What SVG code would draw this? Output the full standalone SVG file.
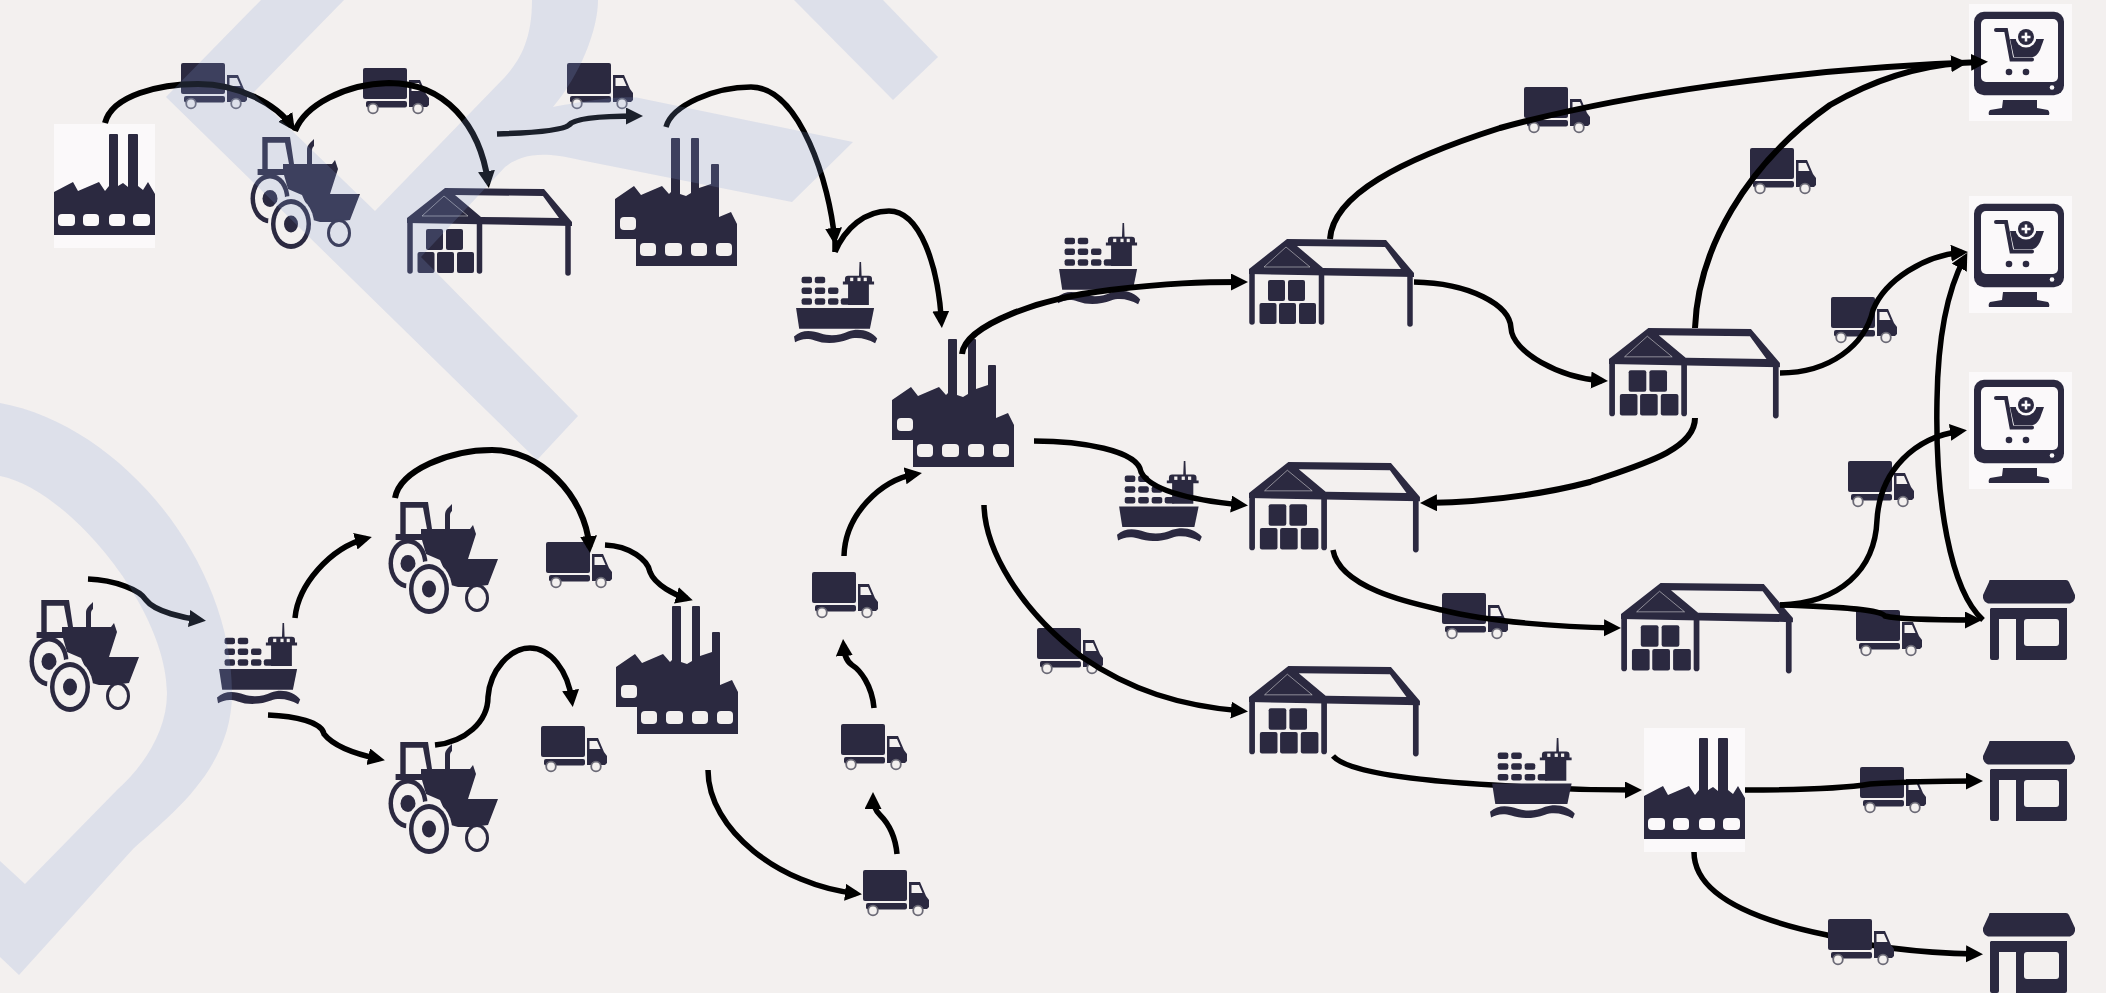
<svg xmlns="http://www.w3.org/2000/svg" width="2106" height="993" viewBox="0 0 2106 993">
<style>
.d{fill:#2b2940}.l{fill:#f3f0ef}.w{fill:#fbf9fa}
.p{fill:none;stroke:#2b2940;stroke-width:5.5;stroke-linecap:round}
.c path{fill:none;stroke:#000;stroke-width:5.5;marker-end:url(#ah)}
.c path.n{marker-end:none}
.c path.t{stroke-width:6}
.wm{fill:#88a2d6;fill-opacity:.2}
</style>
<defs>
<marker id="ah" markerUnits="userSpaceOnUse" markerWidth="18" markerHeight="18" refX="11" refY="8.500" orient="auto"><path d="M0,0 L17,8.500 L0,17 Z" fill="#000"/></marker>
<g id="truck">
<rect class="d" width="44" height="31" rx="2"/>
<rect class="d" x="3" y="33" width="41" height="6.500" rx="2"/>
<path class="d" d="M46,12H57L63,26L66,30V37L64,39H46Z"/>
<path class="l" d="M48.500,15H56L59.500,23H48.500Z"/>
<g fill="#f3f0ef" stroke="#6b6a76" stroke-width="1.800"><circle cx="10" cy="40.500" r="4.800"/><circle cx="55" cy="40.500" r="4.800"/></g>
</g>
<g id="warehouse">
<path class="d" fill-rule="evenodd" d="M0,30L38,0L137,1L165,34V38L0,35ZM48,7L74,29L152,30L136,8Z"/>
<path fill="none" stroke="#f3f0ef" stroke-width=".8" stroke-opacity=".6" d="M37,8L61,28H15Z"/>
<g class="p"><path d="M3,32V83"/><path d="M72.500,34V83"/><path d="M161,36V85"/></g>
<g class="d"><rect x="19" y="41" width="17" height="21" rx="2"/><rect x="39" y="41" width="17" height="21" rx="2"/><rect x="10.500" y="64" width="17" height="21" rx="2"/><rect x="30" y="64" width="17" height="21" rx="2"/><rect x="50" y="64" width="17" height="21" rx="2"/></g>
</g>
<g id="factoryA">
<rect class="w" width="101" height="124"/>
<path class="d" d="M0,68L19,58L24,67L45,58L51,67L55,62V11Q55,10 56,10H63Q64,10 64,11V62L69,59L74,63V11Q74,10 75,10H83Q84,10 84,11V62L89,66L94,58L101,70V111H0Z"/>
<g class="w"><rect x="4" y="90" width="17" height="12" rx="4"/><rect x="29" y="90" width="16" height="12" rx="4"/><rect x="55" y="90" width="16" height="12" rx="4"/><rect x="79" y="90" width="17" height="12" rx="4"/></g>
</g>
<g id="factoryB">
<path class="d" d="M0,61L19,48L26,57L47,48L54,56L56,54V1Q56,0 57,0H64Q65,0 65,1V56L71,58L76,55V1Q76,0 77,0H83Q84,0 84,1V50L96,46V27Q96,26 97,26H103Q104,26 104,27V79L116,74L122,86V128H21V101H0Z"/>
<g class="l"><rect x="5" y="79" width="16" height="13" rx="4"/><rect x="25" y="105" width="16" height="13" rx="4"/><rect x="50" y="105" width="17" height="13" rx="4"/><rect x="76" y="105" width="16" height="13" rx="4"/><rect x="101" y="105" width="16" height="13" rx="4"/></g>
</g>
<g id="ship">
<g class="d">
<rect x="7.300" y="15" width="10" height="6.700" rx="2"/><rect x="20" y="15" width="10" height="6.700" rx="2"/>
<rect x="7.300" y="26" width="10" height="6.700" rx="2"/><rect x="20" y="26" width="10" height="6.700" rx="2"/><rect x="32.700" y="26" width="10" height="6.700" rx="2"/>
<rect x="7.300" y="37" width="10" height="6.700" rx="2"/><rect x="20" y="37" width="10" height="6.700" rx="2"/><rect x="32.700" y="37" width="10" height="6.700" rx="2"/><rect x="45" y="37" width="10" height="6.700" rx="2"/>
<path d="M62.500,14H52Q49,14 49,17V20H47V23H52V44H72V23H77V20H75V17Q75,14 72,14H65L64.500,0H63Z"/>
<path d="M2,47H77L73,68H5Z"/>
<path d="M0,76C8,68 18,70 26,73C34,76 45,75 52,71C62,67 74,70 80,78L78,83C70,78 60,76 52,79C42,83 30,84 20,80C12,77 6,79 1,82Z"/>
</g>
<g class="l"><rect x="54" y="16" width="3" height="3.500"/><rect x="61" y="16" width="3" height="3.500"/><rect x="67" y="16" width="3" height="3.500"/></g>
</g>
<g id="tractor">
<ellipse class="d" cx="20" cy="61.500" rx="19.500" ry="25"/>
<ellipse class="l" cx="20" cy="61.500" rx="15" ry="20"/>
<ellipse class="d" cx="20" cy="61.500" rx="7.500" ry="8.500"/>
<path class="d" d="M12.300,0H40L44,27H39L35,5.700H17.700V32H12.300Z"/>
<path class="d" d="M57,28V13C57,8 60,6 64,2V9C62,11 62,12 62,14V28Z"/>
<path class="d" d="M7.600,32H33V27H82L85,23L88,32L80,57H110L100,83L84,85L70,85L63,83L52,58L38,52L34,38H7.600Z"/>
<ellipse cx="41" cy="87" rx="23" ry="28" fill="#f3f0ef"/>
<ellipse class="d" cx="41" cy="87" rx="20" ry="25"/>
<ellipse class="l" cx="41" cy="87" rx="15.500" ry="20"/>
<ellipse class="d" cx="41" cy="87" rx="7" ry="8.500"/>
<ellipse cx="89" cy="96" rx="10.500" ry="12.500" fill="#f3f0ef" stroke="#2b2940" stroke-width="3"/>
</g>
<g id="store">
<path class="d" d="M7,0H83Q85,0 86,2L92,15V18Q91,22 87,23.500H5Q1,22 0,18V15L6,2Q6,0 7,0Z"/>
<path class="d" d="M8,28H84V78Q84,80 82,80H33V39H16V78Q16,80 14,80H9Q7,80 7,78V29Z"/>
<rect class="l" x="41" y="39" width="35" height="27" rx="3"/>
</g>
<g id="monitor">
<rect class="w" width="103" height="117"/>
<rect class="d" x="5" y="7.700" width="90" height="83.500" rx="10"/>
<rect class="w" x="12" y="15" width="77" height="63" rx="5"/>
<circle class="w" cx="83" cy="83.500" r="2.300"/>
<path class="d" d="M34,96H68V104L79,106Q81,108 80,111H20Q19,108 21,106L33,104Z"/>
<path fill="none" stroke="#2b2940" stroke-width="4" stroke-linecap="round" d="M27,26H37L42.500,55.500H63"/>
<path class="d" d="M41,35H75L71,46Q68,52 64,53H45Z"/>
<circle cx="57" cy="33" r="10.500" fill="#fbf9fa"/>
<circle class="d" cx="57" cy="33" r="8"/>
<path fill="none" stroke="#fbf9fa" stroke-width="2.500" d="M57,28.500V37.500M52.500,33H61.500"/>
<circle class="d" cx="40" cy="68" r="3.300"/><circle class="d" cx="57" cy="68" r="3.300"/>
</g>
</defs>
<rect width="2106" height="993" fill="#f3f0ef"/>

<g id="truck1"><use href="#truck" transform="translate(181,63)"/></g>
<g id="truck2"><use href="#truck" transform="translate(363,68)"/></g>
<g id="truck3"><use href="#truck" transform="translate(567,63)"/></g>
<g id="truck4"><use href="#truck" transform="translate(1524,87)"/></g>
<g id="truck5"><use href="#truck" transform="translate(1750,148)"/></g>
<g id="truck6"><use href="#truck" transform="translate(1831,297)"/></g>
<g id="truck7"><use href="#truck" transform="translate(1848,461)"/></g>
<g id="truck8"><use href="#truck" transform="translate(1856,610)"/></g>
<g id="truck9"><use href="#truck" transform="translate(1860,767)"/></g>
<g id="truck11"><use href="#truck" transform="translate(1442,593)"/></g>
<g id="truck12"><use href="#truck" transform="translate(1037,628)"/></g>
<g id="truck13"><use href="#truck" transform="translate(863,870)"/></g>
<g id="truck14"><use href="#truck" transform="translate(841,724)"/></g>
<g id="truck15"><use href="#truck" transform="translate(812,572)"/></g>
<g id="truck16"><use href="#truck" transform="translate(546,542)"/></g>
<g id="truck17"><use href="#truck" transform="translate(541,726)"/></g>

<g id="warehouse0"><use href="#warehouse" transform="translate(407,188)"/></g>
<g id="warehouse1"><use href="#warehouse" transform="translate(1249,239)"/></g>
<g id="warehouse2"><use href="#warehouse" transform="translate(1249,462) scale(1.036,1.03)"/></g>
<g id="warehouse3"><use href="#warehouse" transform="translate(1249,666) scale(1.036,1.03)"/></g>
<g id="warehouse4"><use href="#warehouse" transform="translate(1609,328) scale(1.036,1.03)"/></g>
<g id="warehouse5"><use href="#warehouse" transform="translate(1621,583) scale(1.042,1.03)"/></g>

<g id="factory1"><use href="#factoryA" transform="translate(54,124)"/></g>
<g id="factory2"><use href="#factoryA" transform="translate(1644,728)"/></g>
<g id="factory3"><use href="#factoryB" transform="translate(615,138)"/></g>
<g id="factory4"><use href="#factoryB" transform="translate(892,339)"/></g>
<g id="factory5"><use href="#factoryB" transform="translate(616,606)"/></g>

<g id="ship1"><use href="#ship" transform="translate(794,262) scale(1.04,.98)"/></g>
<g id="ship2"><use href="#ship" transform="translate(1057,223) scale(1.04,.98)"/></g>
<g id="ship3"><use href="#ship" transform="translate(217,623) scale(1.04,.98)"/></g>
<g id="ship4"><use href="#ship" transform="translate(1117,461) scale(1.06,.97)"/></g>

<g id="tractor1"><use href="#tractor" transform="translate(250,137)"/></g>
<g id="tractor2"><use href="#tractor" transform="translate(29,600)"/></g>
<g id="tractor3"><use href="#tractor" transform="translate(388,502)"/></g>
<g id="tractor4"><use href="#tractor" transform="translate(388,742)"/></g>

<g id="store1"><use href="#store" transform="translate(1983,580)"/></g>
<g id="store2"><use href="#store" transform="translate(1983,741)"/></g>
<g id="store3"><use href="#store" transform="translate(1983,913)"/></g>

<g id="monitor1"><use href="#monitor" transform="translate(1969,4)"/></g>
<g id="monitor2"><use href="#monitor" transform="translate(1969,196)"/></g>
<g id="monitor3"><use href="#monitor" transform="translate(1969,372)"/></g>

<g id="connectors" class="c">
<path class="t" d="M105,123C112,95 160,84 198,84C240,84 277,105 291.500,126"/>
<path class="t" d="M295,131C305,105 345,84 389,83C445,83 480,125 488,182"/>
<path d="M497,134C530,133 562,131 569,125C575,117 610,116 637,116"/>
<path d="M666,127C672,105 715,87 751,87C800,87 830,185 834.500,239"/>
<path class="n" d="M835,240V252"/>
<path d="M835,252C845,228 865,211 889,211C920,211 938,265 941.500,322"/>
<path class="t" d="M962,354C965,325 1040,298 1110,290C1170,283 1200,282 1242,282"/>
<path d="M1414,282C1470,283 1510,305 1511,328C1512,352 1560,378 1602,380.700"/>
<path class="t" d="M1330,239C1333,195 1400,160 1500,128C1620,95 1800,68 1982,62"/>
<path class="t" d="M1695,328C1698,250 1745,165 1830,105C1870,82 1915,66 1962,63"/>
<path d="M1780,373C1830,373 1865,345 1873,310C1885,280 1925,255 1962,252.500"/>
<path class="t" d="M1695,418C1695,450 1640,465 1590,482C1540,495 1480,502 1426,503"/>
<path d="M1034,441C1080,441 1138,450 1141,472C1150,490 1190,500 1242,505"/>
<path d="M984,505C985,550 1020,610 1082,657C1130,690 1180,706 1242,711"/>
<path d="M1333,550C1340,590 1420,605 1442,610C1490,622 1560,627 1615,628"/>
<path d="M1780,605C1840,603 1875,570 1877,520C1880,470 1915,437 1961,431"/>
<path d="M1780,605C1850,607 1880,610 1885,616C1900,620 1950,620 1976,620"/>
<path d="M1983,620C1950,590 1935,500 1937,400C1938,330 1950,285 1964.500,258"/>
<path d="M1333,756C1350,775 1440,782 1493,785C1550,789 1600,790 1636,790"/>
<path d="M1745,790C1800,790 1840,789 1870,784C1900,782 1950,781 1977,781"/>
<path d="M1694,852C1694,885 1730,915 1827,935C1870,948 1930,953 1977,954"/>
<path d="M88,579C115,580 140,590 146,600C155,612 185,618 200,620"/>
<path d="M295,618C298,585 330,548 366,538.500"/>
<path d="M268,715C295,716 322,722 324,734C335,748 360,755 379,759"/>
<path class="t" d="M395,498C400,470 450,450 492,450C540,450 585,495 589.500,547"/>
<path d="M605,545C630,546 648,560 650,572C655,585 675,595 687,598.500"/>
<path d="M435,745C465,742 488,722 488,697C490,670 510,648 530,648C550,648 568,670 572,701"/>
<path d="M708,770C708,830 780,885 856,893.500"/>
<path d="M897,854C895,832 885,820 880,815C875,810 873,805 873,798"/>
<path d="M874,708C872,685 860,670 852,665C845,660 844,652 843.500,645"/>
<path d="M844,556C845,515 880,480 916,474"/>
</g>
<g id="truck10"><use href="#truck" transform="translate(1828,919)"/></g>
<g id="ship5"><use href="#ship" transform="translate(1490,738) scale(1.06,.97)"/></g>

<g id="watermark" class="wm">
<path d="M261,0H344L253,93L375,211L505,77C520,60 532,40 532,0H598C598,30 580,75 553,107C575,103 620,95 639,98L853,142L792,202L580,160C540,150 520,155 505,167L421,257L578,416L537,460L166,97Z"/>
<path d="M794,0H883L938,57L893,100Z"/>
<path d="M0,403C120,425 232,560 232,693C232,770 170,815 133,849L19,975L0,957V861L25,884L117,790C145,765 167,730 167,693C167,610 70,490 0,476Z"/>
</g>
</svg>
